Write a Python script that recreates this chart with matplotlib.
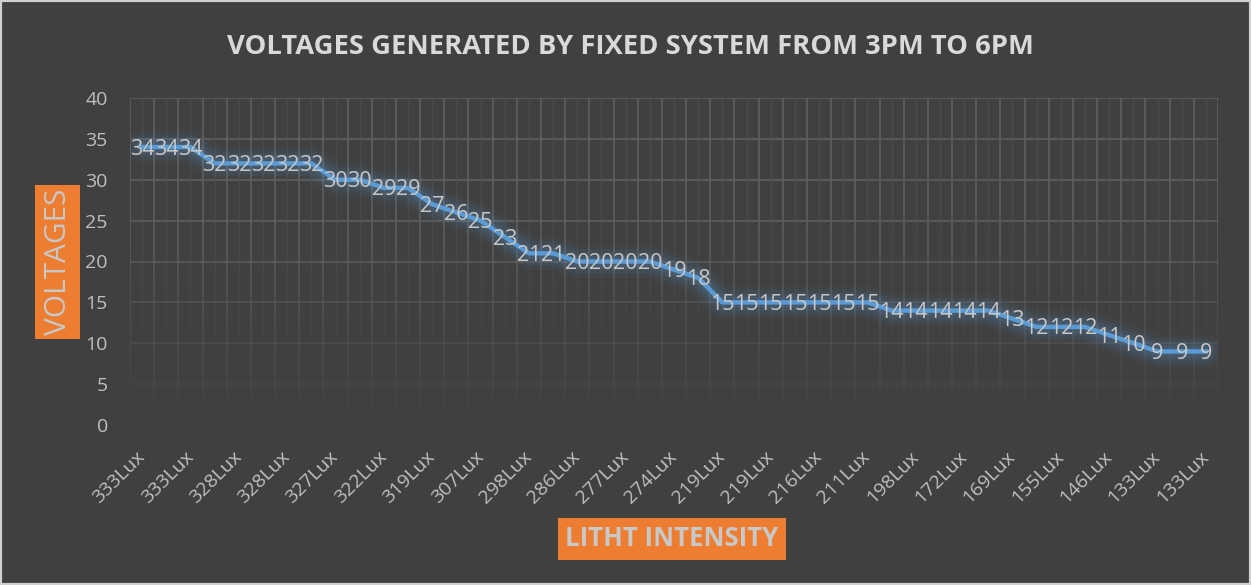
import numpy as np
import matplotlib
matplotlib.use("Agg")
from matplotlib import pyplot as plt
from matplotlib.collections import LineCollection

# light intensity of every reading (Lux) and the voltage measured
lux = [333, 333, 333, 328, 328, 328, 328, 327, 327, 322, 322, 319, 319, 307, 307,
       298, 298, 286, 286, 277, 277, 274, 274, 219, 219, 219, 219, 216, 216, 211,
       211, 198, 198, 172, 172, 169, 169, 155, 155, 146, 146, 133, 133, 133, 133]
voltages = [34, 34, 34, 32, 32, 32, 32, 32, 30, 30, 29, 29, 27, 26, 25, 23, 21, 21,
            20, 20, 20, 20, 19, 18, 15, 15, 15, 15, 15, 15, 15, 14, 14, 14, 14, 14,
            13, 12, 12, 12, 11, 10, 9, 9, 9]
# Excel shows every other category label
tick_idx = list(range(0, len(lux), 2))
tick_labels = [f"{lux[i]}Lux" for i in tick_idx]

BG = "#404040"
GRID = "#5c5c5c"
TXT = "#bfbfbf"
BLUE = "#5b9bd5"
ORANGE = "#ed7d31"

plt.rcParams["font.family"] = ["Open Sans", "DejaVu Sans"]

fig = plt.figure(figsize=(12.51, 5.85), dpi=100, facecolor=BG)
ax = fig.add_axes([130 / 1251, 1 - 425 / 585, 1088 / 1251, 327 / 585])
ax.set_facecolor(BG)

n = len(voltages)
x = np.arange(n)
ax.set_xlim(-0.5, n - 0.5)
ax.set_ylim(0, 40)


def fade(y):
    return float(np.clip(y / 25.0, 0, 1))


# horizontal gridlines, fading towards the bottom
for yv in range(5, 45, 5):
    ax.axhline(yv, color=GRID, lw=1.3, alpha=fade(yv), zorder=1)

# vertical gridlines (major at category borders, minor at centres), faded
segs, cols = [], []
ys = np.linspace(0, 40, 41)
for xb in np.arange(-0.5, n, 1.0):
    for y0, y1 in zip(ys[:-1], ys[1:]):
        segs.append([(xb, y0), (xb, y1)])
        cols.append((0.36, 0.36, 0.36, fade((y0 + y1) / 2)))
ax.add_collection(LineCollection(segs, colors=cols, linewidths=1.3, zorder=1))
segs, cols = [], []
for xb in x:
    for y0, y1 in zip(ys[:-1], ys[1:]):
        segs.append([(xb, y0), (xb, y1)])
        cols.append((0.31, 0.31, 0.31, fade((y0 + y1) / 2) * 0.7))
ax.add_collection(LineCollection(segs, colors=cols, linewidths=1.0, zorder=1))

# glow + line
for lw, a in [(24, 0.05), (18, 0.07), (13, 0.09), (8, 0.12)]:
    ax.plot(x, voltages, color=BLUE, lw=lw, alpha=a, solid_capstyle="round",
            solid_joinstyle="round", zorder=2)
ax.plot(x, voltages, color=BLUE, lw=3.2, solid_joinstyle="round", zorder=3)

for xi, v in zip(x, voltages):
    ax.text(xi, v - 0.25, str(v), ha="center", va="center", color="#c8c8c8",
            fontsize=15.5, zorder=4)

for s in ax.spines.values():
    s.set_visible(False)
ax.set_xticks(tick_idx)
ax.set_xticklabels(tick_labels, rotation=45, ha="right", va="center",
                   rotation_mode="anchor")
ax.set_yticks(range(0, 45, 5))
ax.tick_params(axis="x", length=0, pad=21, colors=TXT, labelsize=14)
ax.tick_params(axis="y", length=0, pad=16, colors=TXT, labelsize=14)

fig.text(630 / 1251, 1 - 47 / 585,
         "VOLTAGES GENERATED BY FIXED SYSTEM FROM 3PM TO 6PM",
         ha="center", va="center", color="#d9d9d9", fontsize=19.7,
         fontweight="bold")

# orange axis-title boxes
fig.patches.append(plt.Rectangle((35 / 1251, 1 - 339 / 585), 45 / 1251, 154 / 585,
                                 transform=fig.transFigure, fc=ORANGE, ec="none"))
fig.text(58 / 1251, 1 - 262 / 585, "VOLTAGES", rotation=90, ha="center",
         va="center", color="#c8c8c8", fontsize=21.5)
fig.text(672 / 1251, 1 - 539 / 585, "LITHT INTENSITY", ha="center",
         va="center", color="#c8c8c8", fontsize=18.5, fontweight="bold",
         bbox=dict(boxstyle="square,pad=0.3", fc=ORANGE, ec="none"))

# thin light frame around the chart
fig.patches.append(plt.Rectangle((0, 0), 1, 1, transform=fig.transFigure,
                                 fill=False, ec="#d0d0d0", lw=3))

fig.savefig("out.png", dpi=100, facecolor=BG)
